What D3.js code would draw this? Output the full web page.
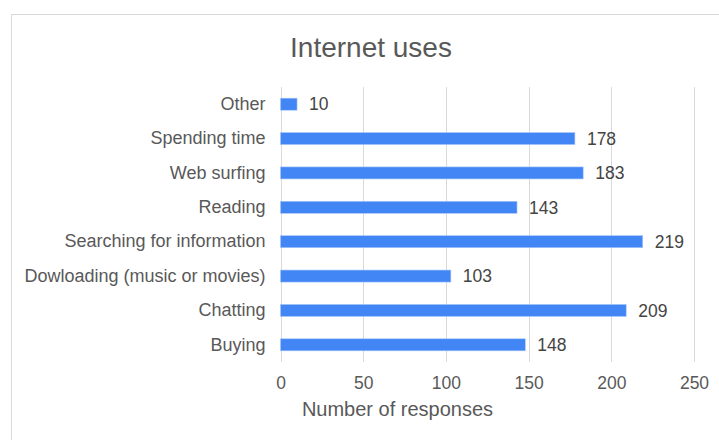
<!DOCTYPE html>
<html>
<head>
<meta charset="utf-8">
<script src="https://cdn.jsdelivr.net/npm/d3@7"></script>
<style>
  body { margin: 0; background: #fff; }
  svg { font-family: "Liberation Sans", Arial, sans-serif; }
</style>
</head>
<body>
<div id="chart"></div>
<script>
// data, top to bottom
const categories = ['Other', 'Spending time', 'Web surfing', 'Reading',
    'Searching for information', 'Dowloading (music or movies)', 'Chatting', 'Buying'];
const responses = [10, 178, 183, 143, 219, 103, 209, 148];
const xTicks = [0, 50, 100, 150, 200, 250];

const W = 719, H = 440;
const margin = { top: 87, right: 25, bottom: 78, left: 280.5 };
const FONT = '"Liberation Sans", Arial, sans-serif';

const svg = d3.select('#chart').append('svg')
    .attr('width', W)
    .attr('height', H);

// outer frame
svg.append('rect')
    .attr('x', 11.5).attr('y', 14.5)
    .attr('width', W).attr('height', H)
    .attr('fill', 'none')
    .attr('stroke', '#d9d9d9');

const x = d3.scaleLinear().domain([0, 250]).range([margin.left, 694]);
const y = d3.scaleBand().domain(categories)
    .range([margin.top, H - margin.bottom])
    .paddingInner(0.65)
    .paddingOuter(0.325);

// gridlines
svg.append('g')
    .selectAll('line')
    .data(xTicks)
    .join('line')
    .attr('x1', d => Math.round(x(d)) + 0.5)
    .attr('x2', d => Math.round(x(d)) + 0.5)
    .attr('y1', margin.top)
    .attr('y2', H - margin.bottom)
    .attr('stroke', '#d9d9d9');

// bars
svg.append('g')
    .selectAll('rect')
    .data(responses)
    .join('rect')
    .attr('x', x(0))
    .attr('y', (d, i) => y(categories[i]))
    .attr('width', d => x(d) - x(0))
    .attr('height', y.bandwidth())
    .attr('fill', '#4285f4')
    .attr('stroke', '#a8c7fa')
    .attr('stroke-width', 0.6);

// value labels
svg.append('g')
    .selectAll('text')
    .data(responses)
    .join('text')
    .attr('x', d => x(d) + 12)
    .attr('y', (d, i) => y(categories[i]) + y.bandwidth() / 2)
    .attr('dy', '0.36em')
    .attr('font-size', 17.5)
    .attr('fill', '#444')
    .text(d => d);

// category axis
const yAxis = svg.append('g')
    .attr('transform', `translate(${margin.left - 15},0)`)
    .call(d3.axisLeft(y).tickSize(0).tickPadding(0));
yAxis.select('.domain').remove();
yAxis.selectAll('text')
    .attr('font-size', 18)
    .attr('font-family', FONT)
    .attr('fill', '#595959');

// value axis
const xAxis = svg.append('g')
    .attr('transform', `translate(0,${H - margin.bottom})`)
    .call(d3.axisBottom(x).tickValues(xTicks).tickSize(0).tickPadding(15));
xAxis.select('.domain').remove();
xAxis.selectAll('text')
    .attr('font-size', 17.5)
    .attr('font-family', FONT)
    .attr('fill', '#595959');

// axis title
svg.append('text')
    .attr('x', 397.5)
    .attr('y', 416)
    .attr('text-anchor', 'middle')
    .attr('font-size', 20)
    .attr('fill', '#595959')
    .text('Number of responses');

// chart title
svg.append('text')
    .attr('x', 371)
    .attr('y', 57)
    .attr('text-anchor', 'middle')
    .attr('font-size', 28)
    .attr('fill', '#595959')
    .text('Internet uses');
</script>
</body>
</html>
